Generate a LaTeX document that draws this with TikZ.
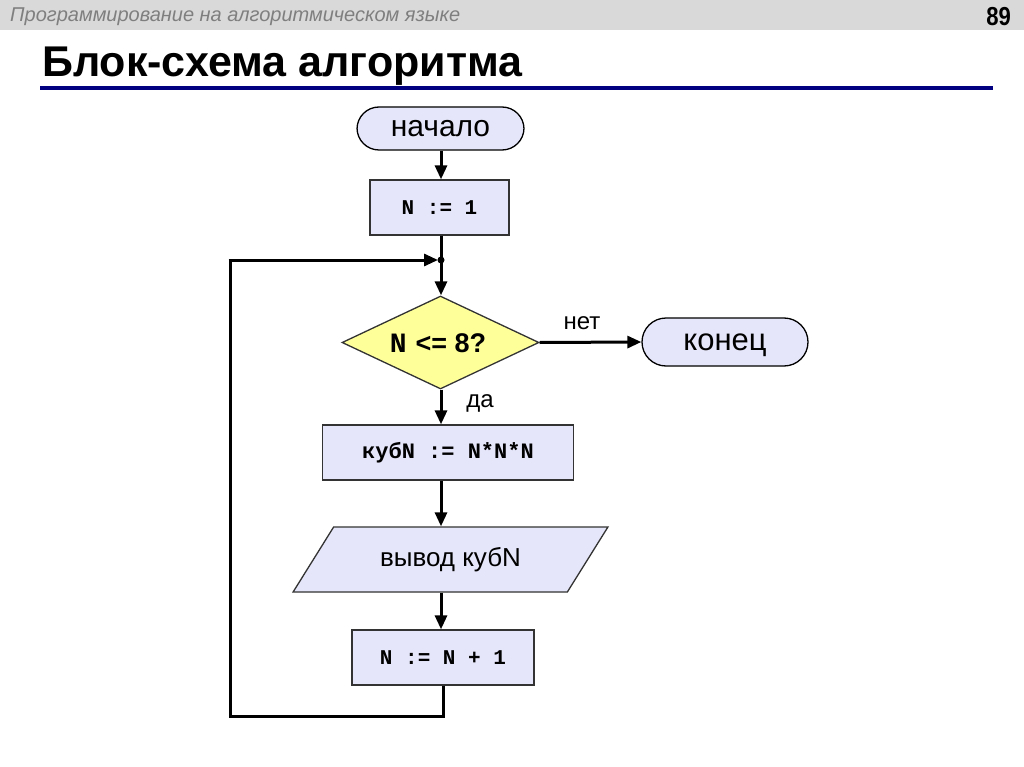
\documentclass[tikz,border=0pt]{standalone}
\usepackage{fontspec}
\setmainfont{Liberation Sans}
\newfontfamily\cour{Liberation Mono}
\usetikzlibrary{shapes.geometric,arrows.meta}
\definecolor{boxfill}{HTML}{E6E6FA}
\definecolor{dfill}{HTML}{FFFF99}
\definecolor{hdr}{HTML}{D9D9D9}
\definecolor{hdrtext}{HTML}{7F7F7F}
\definecolor{navy}{HTML}{000080}
\tikzset{
  flow/.style={line width=3pt, -{Triangle[length=14pt,width=12pt]}},
  loopline/.style={line width=3pt},
  term/.style={draw=black, line width=1.3pt, fill=boxfill, rounded corners=22pt, inner sep=0pt},
  procbox/.style={draw=black!80, line width=1.3pt, fill=boxfill, inner sep=0pt, font=\cour\bfseries\fontsize{21}{24}\selectfont},
  lbl/.style={font=\fontsize{24}{26}\selectfont, inner sep=0pt},
}
\begin{document}
\begin{tikzpicture}[x=1pt,y=-1pt]
\useasboundingbox (0,0) rectangle (1024,767);
\fill[white] (0,0) rectangle (1024,767);
% header
\fill[hdr] (0,0) rectangle (1024,30);
\node[anchor=base west, inner sep=0pt, text=hdrtext, font=\itshape\fontsize{20}{22}\selectfont] (hdrl) at (10,21.5) {Программирование на алгоритмическом языке};
\node[anchor=base east, inner sep=0pt, xscale=0.85, font=\bfseries\fontsize{26}{28}\selectfont] (pg) at (1011,26) {89};
\node[anchor=base west, inner sep=0pt, font=\bfseries\fontsize{43}{46}\selectfont] (title) at (42,77) {Блок-схема алгоритма};
\fill[navy] (40,86.5) rectangle (993,90);
% nodes
\node[term, minimum width=167pt, minimum height=43pt, font=\fontsize{30}{32}\selectfont] (start) at (440.5,128.5) {\raisebox{0pt}[\height][0pt]{начало}};
\node[procbox, minimum width=139pt, minimum height=55pt] (n1) at (439.5,207.5) {N := 1};
\coordinate (j) at (441,260);
\node[diamond, draw=black!80, line width=1.3pt, fill=dfill, minimum width=197pt, minimum height=93pt, inner sep=0pt] (cond) at (440.5,342.5) {};
\node[inner sep=0pt, anchor=center] (condt) at (438,343) {{\cour\bfseries\fontsize{28}{30}\selectfont N}\hspace{9pt}{\bfseries\fontsize{27}{30}\selectfont<= 8?}};
\node[term, minimum width=166pt, minimum height=48pt, rounded corners=24pt, font=\fontsize{31}{33}\selectfont] (end) at (725,342) {\raisebox{0pt}[\height][0pt]{конец}};
\node[procbox, minimum width=251pt, minimum height=55pt, font=\cour\bfseries\fontsize{22}{24}\selectfont] (cube) at (448,452.5) {кубN := N*N*N};
\node[trapezium, trapezium left angle=45, trapezium right angle=135, draw=black!80, line width=1.3pt, fill=boxfill, minimum height=65pt, minimum width=315pt, inner sep=0pt, font=\fontsize{26}{28}\selectfont, trapezium stretches=true] (out) at (450.5,559.5) {вывод кубN};
\node[procbox, minimum width=182pt, minimum height=55pt] (inc) at (443,657.5) {N := N + 1};
\coordinate (bot) at (443,716);
\coordinate (botl) at (230,716);
\coordinate (topl) at (230,260);
% labels
\node[lbl] (no) at (582,323) {нет};
\node[lbl] (yes) at (480,403) {да};
% connectors
\draw[flow] (start.south -| j) -- (n1.north -| j);
\draw[loopline] (j |- n1.south) -- (j);
\draw[flow] (j) -- (cond.north -| j);
\draw[flow] (cond.east) -- (end.west);
\draw[flow] (cond.south -| j) -- (cube.north -| j);
\draw[flow] (cube.south -| j) -- (out.north -| j);
\draw[flow] (out.south -| j) -- (inc.north -| j);
\draw[loopline] (inc.south -| bot) -- (bot) -- (botl) -- (topl);
\draw[flow] ([xshift=-1.5pt]topl) -- ([xshift=-3pt]j);
\fill (j) circle (3.5pt);
\end{tikzpicture}
\end{document}
